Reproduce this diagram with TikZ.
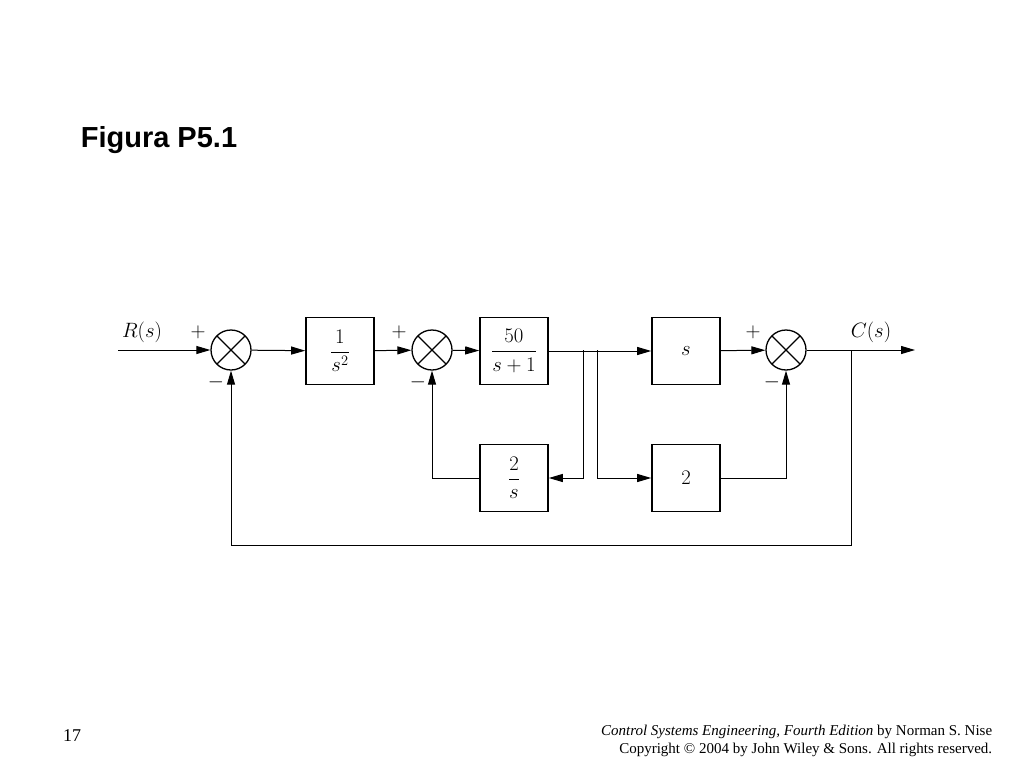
\documentclass[tikz,border=0pt]{standalone}
\usepackage{amsmath}
\usepackage{fontspec}
\setmainfont{Liberation Serif}
\newfontfamily\titlefont{Liberation Sans}
\usetikzlibrary{arrows.meta}
\begin{document}
\begin{tikzpicture}[x=1pt,y=-1pt,thick,
  blockbox/.style={draw,line width=1.6pt,minimum width=68pt,minimum height=67pt,font=\fontsize{22}{24}\selectfont},
  summer/.style={draw,line width=1.3pt,circle,minimum size=40pt,inner sep=0pt,path picture={
    \draw[line width=1.3pt] (path picture bounding box.north west)--(path picture bounding box.south east)
      (path picture bounding box.north east)--(path picture bounding box.south west);}},
  sig/.style={font=\fontsize{21}{23}\selectfont},
  every path/.style={line width=1pt},
  >={Triangle[length=14pt,width=8pt]}]
\useasboundingbox (0,0) rectangle (1024,768);
%
\node[anchor=west,font=\titlefont\bfseries\fontsize{29}{32}\selectfont] (title) at (77,140) {Figura P5.1};
%
\coordinate (in) at (118,350);
\node[summer] (s1) at (231,350) {};
\node[blockbox] (g1) at (340,351) {$\dfrac{1}{s^{2}}$};
\node[summer] (s2) at (432,350) {};
\node[blockbox] (g2) at (514,351) {$\dfrac{50}{s+1}$};
\node[blockbox] (g3) at (686,351) {$s$};
\node[blockbox] (h1) at (514,478) {$\dfrac{2}{s}$};
\node[blockbox] (h2) at (686,478) {$2$};
\node[summer] (s3) at (786,350) {};
\coordinate (out) at (915,350);
\coordinate (pa) at (583,350);
\coordinate (pb) at (597,350);
\coordinate (po) at (851,350);
%
\draw[->] (in) -- (s1);
\draw[->] (s1) -- (g1);
\draw[->] (g1) -- (s2);
\draw[->] (s2) -- (g2);
\draw[->] (g2) -- (g3);
\draw[->] (g3) -- (s3);
\draw[->] (s3) -- (out);
\draw[->] (pa) |- (h1);
\draw[->] (pb) |- (h2);
\draw[->] (h1) -| (s2);
\draw[->] (h2) -| (s3);
\draw[->] (po) -- ++(0,195) -| (s1);
%
\node[sig] (lr) at (142,332) {$R(s)$};
\node[sig] (lc) at (871,332) {$C(s)$};
\node[sig] (p1) at (198,332) {$+$};
\node[sig] (m1) at (216,382) {$-$};
\node[sig] (p2) at (399,332) {$+$};
\node[sig] (m2) at (418,382) {$-$};
\node[sig] (p3) at (753,332) {$+$};
\node[sig] (m3) at (772,382) {$-$};
%
\node[font=\fontsize{18}{20}\selectfont] (page) at (72,736) {17};
\node[anchor=east,align=right,font=\fontsize{15}{18}\selectfont] (foot) at (996,741)
  {\textit{Control Systems Engineering, Fourth Edition} by Norman S. Nise\\
   Copyright © 2004 by John Wiley \& Sons. All rights reserved.};
\end{tikzpicture}
\end{document}
